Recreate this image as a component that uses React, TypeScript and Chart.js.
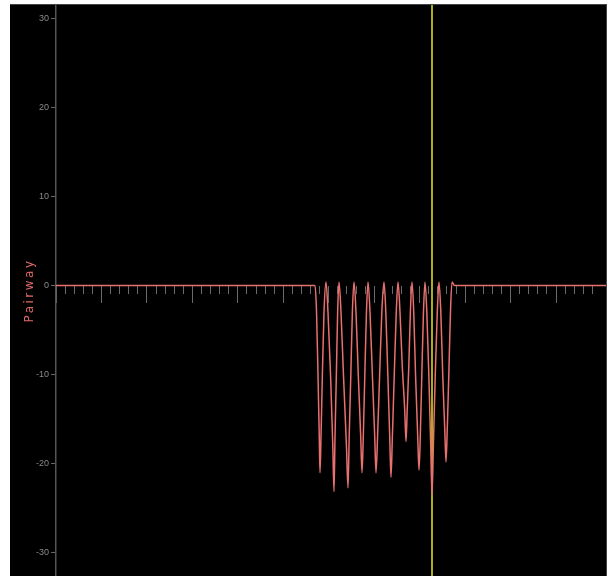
import React, { useEffect, useRef } from 'react';
import { Chart, registerables } from 'chart.js';

Chart.register(...registerables);

// Pairway trace (x in sample units, y in pairway units)
const waveX = [
  0, 28.49,
  28.66, 28.82, 28.96, 29.04, 29.15, 29.3, 29.48, 29.7,
  29.92, 30.2, 30.45, 30.58, 30.69, 30.84, 30.98, 31.13,
  31.35, 31.62, 31.95, 32.12, 32.25, 32.43, 32.6, 32.78,
  33.0, 33.25, 33.52, 33.66, 33.8, 33.97, 34.15, 34.32,
  34.54, 34.8, 35.06, 35.2, 35.37, 35.6, 35.84, 36.08,
  36.28, 36.5, 36.71, 36.85, 37.0, 37.21, 37.43, 37.62,
  37.84, 38.09, 38.36, 38.5, 38.63, 38.81, 38.98, 39.16,
  39.35, 39.55, 39.79, 39.93, 40.07, 40.24, 40.42, 40.59,
  40.79, 41.01, 41.22, 41.36, 41.51, 41.72, 41.94, 42.13,
  42.33, 42.54, 42.76, 42.9, 43.04, 43.21, 43.39, 43.56,
  43.84, 60.5,
];
const waveY = [
  0, 0,
  -3, -10, -17, -21, -17, -10, -3, 0.4,
  -3, -10, -18, -23.1, -17, -10, -3, 0.4,
  -3, -10, -18, -22.7, -17, -10, -3, 0.4,
  -3, -10, -17, -21, -17, -10, -3, 0.4,
  -3, -10, -17, -21, -17, -10, -3, 0.4,
  -3, -10, -17, -21.5, -17, -10, -3, 0.4,
  -3, -9, -14, -17.5, -14, -9, -3, 0.4,
  -3, -10, -17, -20.7, -17, -10, -3, 0.4,
  -3, -10, -18, -23.5, -18, -10, -3, 0.4,
  -3, -10, -16, -19.8, -16, -10, -3, 0.4,
  0, 0,
];

// Cursor line
const cursorX = [41.36, 41.36];
const cursorY = [-40, 40];

const yTicks = [-30, -20, -10, 0, 10, 20, 30];
const yTitle = 'Pairway';
const xMin = 0;
const xMax = 60.5;
const yMin = -32.58;
const yMax = 31.46;

// Wide letter spacing for the axis title only (title layer is drawn before datasets,
// tick labels are drawn in a layer after datasets).
const spacingPlugin = {
  id: 'letterSpacing',
  beforeDraw(chart: any) {
    chart.ctx.letterSpacing = '2.5px';
  },
  beforeDatasetsDraw(chart: any) {
    chart.ctx.letterSpacing = '0px';
  },
  afterDraw(chart: any) {
    chart.ctx.letterSpacing = '0px';
  },
};

export default function App() {
  const ref = useRef<HTMLCanvasElement | null>(null);

  useEffect(() => {
    if (!ref.current) return;
    const chart = new Chart(ref.current, {
      type: 'line',
      data: {
        datasets: [
          {
            data: waveX.map((x, i) => ({ x, y: waveY[i] })),
            borderColor: '#e8706f',
            borderWidth: 1.5,
            pointRadius: 0,
            cubicInterpolationMode: 'monotone',
            xAxisID: 'x',
            yAxisID: 'y',
          },
          {
            data: cursorX.map((x, i) => ({ x, y: cursorY[i] })),
            borderColor: '#e6e62a',
            borderWidth: 1.5,
            pointRadius: 0,
            xAxisID: 'x',
            yAxisID: 'y',
          },
        ],
      },
      options: {
        responsive: false,
        animation: false,
        devicePixelRatio: 1,
        layout: { padding: 0 },
        plugins: { legend: { display: false }, tooltip: { enabled: false } },
        scales: {
          x: {
            type: 'linear',
            min: xMin,
            max: xMax,
            position: { y: 0 },
            afterBuildTicks: (s: any) => {
              s.ticks = s.ticks.filter((t: any) => Number.isInteger(t.value));
            },
            ticks: { display: false, stepSize: 1 },
            grid: { drawOnChartArea: false, drawTicks: true, tickLength: 8, color: '#6a6a6a' },
            border: { display: false },
          },
          x2: {
            type: 'linear',
            axis: 'x',
            min: xMin,
            max: xMax,
            position: { y: 0 },
            afterBuildTicks: (s: any) => {
              s.ticks = s.ticks.filter((t: any) => t.value % 5 === 0);
            },
            ticks: { display: false, stepSize: 5 },
            grid: { drawOnChartArea: false, drawTicks: true, tickLength: 17, color: '#6a6a6a' },
            border: { display: false },
          },
          y: {
            type: 'linear',
            min: yMin,
            max: yMax,
            position: 'left',
            afterBuildTicks: (s: any) => {
              s.ticks = yTicks.map((v) => ({ value: v }));
            },
            afterFit: (s: any) => {
              s.width = 46;
              s.paddingTop = 0;
              s.paddingBottom = 0;
            },
            ticks: {
              color: '#8a8a8a',
              font: { size: 9, family: 'Liberation Sans' },
              padding: 2,
              z: 1,
            },
            grid: { drawOnChartArea: false, drawTicks: true, tickLength: 5, color: '#666' },
            border: { color: '#555', width: 1.5 },
            title: {
              display: true,
              text: yTitle,
              color: '#e06a6a',
              font: { size: 12, family: 'DejaVu Sans' },
              padding: { top: 13, bottom: 0 },
            },
          },
        },
      } as any,
      plugins: [spacingPlugin],
    });
    return () => chart.destroy();
  }, []);

  return (
    <div
      style={{
        position: 'absolute',
        left: 10,
        top: 4,
        width: 597,
        height: 572,
        background: '#000',
        borderTop: '1px solid #444',
        borderRight: '1px solid #444',
        boxSizing: 'border-box',
      }}
    >
      <canvas ref={ref} width={596} height={571} style={{ display: 'block', background: '#000' }} />
    </div>
  );
}
